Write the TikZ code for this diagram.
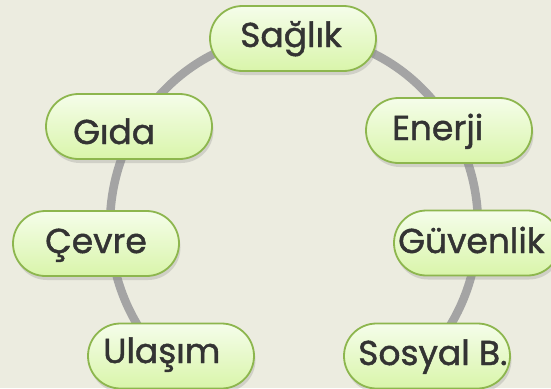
\documentclass[tikz,border=0pt]{standalone}
\usepackage{fontspec}
\setmainfont[FakeBold=1.3]{Poppins}
\usetikzlibrary{shapes.misc,shadows}
\definecolor{bgc}{HTML}{ECECE0}
\definecolor{ringc}{HTML}{A4A4A4}
\definecolor{edgec}{HTML}{8DB64E}
\definecolor{topc}{HTML}{F5FDEA}
\definecolor{botc}{HTML}{D9F5AA}
\definecolor{txtc}{HTML}{333333}
\tikzset{
  pill/.style={rounded rectangle, draw=edgec, line width=1.8pt,
    top color=topc, bottom color=botc,
    minimum width=166pt, minimum height=65pt, inner sep=0pt,
    drop shadow={opacity=0.25, shadow xshift=1.5pt, shadow yshift=-4pt}},
  lbl/.style={anchor=base west, inner sep=0pt, text=txtc,
    font=\fontsize{34.5}{40}\selectfont}
}
\begin{document}
\begin{tikzpicture}[x=1pt,y=-1pt]
\fill[bgc] (0,0) rectangle (551,388);
\useasboundingbox (0,0) rectangle (551,388);
\draw[ringc, line width=8.5pt] (294,225) ellipse [x radius=184, y radius=190];
\node[pill] (saglik) at (293,38.5) {};
\node[pill] (gida) at (129,126.5) {};
\node[pill] (enerji) at (449,130.5) {};
\node[pill] (cevre) at (96,243.5) {};
\node[pill] (guvenlik) at (477,243) {};
\node[pill] (ulasim) at (171,356) {};
\node[pill] (sosyal) at (427,356) {};
\node[lbl] (tsaglik) at (240,47) {Sağlık};
\node[lbl] (tgida) at (73,144) {Gıda};
\node[lbl] (tenerji) at (392,140) {Enerji};
\node[lbl] (tcevre) at (45,253) {Çevre};
\node[lbl] (tguvenlik) at (398,253) {Güvenlik};
\node[lbl] (tulasim) at (103,363) {Ulaşım};
\node[lbl] (tsosyal) at (358,365) {Sosyal B.};
\end{tikzpicture}
\end{document}
